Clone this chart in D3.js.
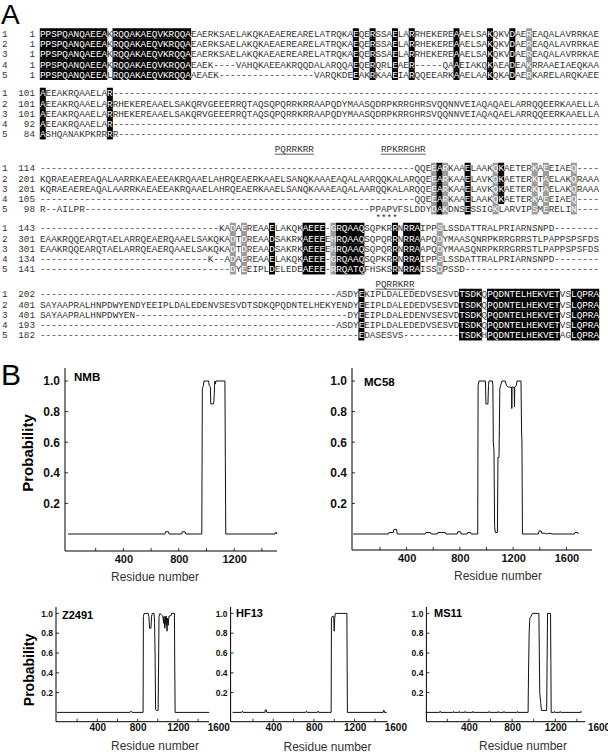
<!DOCTYPE html>
<html>
<head>
<meta charset="utf-8">
<script src="https://cdn.jsdelivr.net/npm/d3@7/dist/d3.min.js"></script>
<style>
  body { margin: 0; background: #fff; }
  svg { display: block; }
</style>
</head>
<body>
<div id="chart"></div>
<script>
// ---------- Panel A data: alignment blocks (100 columns each) ----------
const dash = n => "-".repeat(n);
const seqNames = ["1", "2", "3", "4", "5"];

const block1 = [
  "PPSPQANQAEEAKRQQAKAEQVKRQQAEAERKSAELAKQKAEAEREARELATRQKAEQERSSAELARRHEKEREAAELSAKQKVDAEREAQALAVRRKAE",
  "PPSPQANQAEEAKRQQAKAEQVKRQQAEAERKSAELAKQKAEAEREARELATRQKAEQERSSAELARRHEKEREAAELSAKQKVDAEREAQALAVRRKAE",
  "PPSPQANQAEEAKRQQAKAEQVKRQQAEAERKSAELAKQKAEAEREARELATRQKAEQERSSAELARRHEKEREAAELSAKQKVDAEREAQALAVRRKAE",
  "PPSPQANQAEEAKRQQAKAEQVKRQQAEAEK----VAHQKAEEAKRQQDALARQQAEQERQRLEAER-----QAAEIAKQKAEADEAKRRAAEIAEQKAA",
  "PPSPQANQAEEALRQQAKAEQVKRQQAAEAEK" + dash(17) + "VARQKDEEAKRKAAEIARQQEEARKAAELAAKQKADAERKARELARQKAEE"
];
const block2 = [
  "AEEAKRQAAELAR" + dash(87),
  "AEEAKRQAAELARRHEKEREAAELSAKQRVGEEERRQTAQSQPQRRKRRAAPQDYMAASQDRPKRRGHRSVQQNNVEIAQAQAELARRQQEERKAAELLA",
  "AEEAKRQAAELARRHEKEREAAELSAKQRVGEEERRQTAQSQPQRRKRRAAPQDYMAASQDRPKRRGHRSVQQNNVEIAQAQAELARRQQEERKAAELLA",
  "AEEAKRQAAELAR" + dash(87),
  "ASHQANAKPKRRRR" + dash(86)
];
const block3 = [
  dash(67) + "QQEEARKAAELAAKQKAETERKAEEIAEQ" + dash(4),
  "KQRAEAEREAQALAARRKAEAEEAKRQAAELAHRQEAERKAAELSANQKAAAEAQALAARQQKALARQQEEARKAAELAVKQKAETERKTAELAKQRAAA",
  "KQRAEAEREAQALAARRKAEAEEAKRQAAELAHRQEAERKAAELSANQKAAAEAQALAARQQKALARQQEEARKAAELAVKQKAETERKTAELAKQRAAA",
  dash(67) + "QQEEARKAAELAAKQKAETERKAEEIAEQ" + dash(4),
  "R--AILPR" + dash(51) + "PPAPVFSLDDYDAKDNSESSIGKLARVIPSMERELIN" + dash(4)
];
const block4 = [
  dash(32) + "KADAEREAAELAKQKAEEE-GRQAAQSQPKRRNRRAIPPSLSSDATTRALPRIARNSNPD" + dash(8),
  "EAAKRQQEARQTAELARRQEAERQAAELSAKQKADTDREAADSAKRKAEEEEHRQAAQSQPQRRNRRAAPQDYMAASQNRPKRRGRRSTLPAPPSPSFDS",
  "EAAKRQQEARQTAELARRQEAERQAAELSAKQKADTDREAADSAKRKAEEEEHRQAAQSQPQRRNRRAAPQDYMAASQNRPKRRGRRSTLPAPPSPSFDS",
  dash(30) + "K--ADAEREAAELAKQKAEEE-GRQAAQSQPKRRNRRAIPPSLSSDATTRALPRIARNSNPD" + dash(8),
  dash(34) + "DYEEIPLDELEDEAEEE-RRQATQFHSKSRNRRAISSDPSSD" + dash(24)
];
const block5 = [
  dash(53) + "ASDYEKIPLDALEDEDVSESVDTSDKQPQDNTELHEKVETVSLQPRA",
  "SAYAAPRALHNPDWYENDYEEIPLDALEDENVSESVDTSDKQPQDNTELHEKYENDYEEIPLDALEDEDVSESVDTSDKQPQDNTELHEKVETVSLQPRA",
  "SAYAAPRALHNPDWYEN" + dash(38) + "DYEEIPLDALEDENVSESVDTSDKQPQDNTELHEKVETVSLQPRA",
  dash(53) + "ASDYEEIPLDALEDEDVSESVDTSDKQPQDNTELHEKVETVSLQPRA",
  dash(57) + "EDASESVS" + dash(10) + "TSDKHPQDNTELHEKVETAGLQPRA"
];
const blocks = [block1, block2, block3, block4, block5];

// first residue number of each row
const blockStarts = [
  [1, 1, 1, 1, 1],
  [101, 101, 101, 92, 84],
  [114, 201, 201, 105, 98],
  [143, 301, 301, 134, 141],
  [202, 401, 401, 193, 182]
];

// shaded columns (black = identical, grey = similar), 1-based
const blackCols = ["1-12 14-27 57 60 64 67 75 81 85", "1 13", "72 77 83", "42 48-51 54-58 64 66-68", "58 76-79 81-93 96-100"];
const greyCols = ["88", "", "71 73 82 89 91 96", "35 37 53 72", ""];
const unshaded = [[], [], [[4, 83]], [], []]; // [row, col]

// motif labels under blocks and the asterisk run
const motifs = [
  {block: 1, col: 43, text: "PQRRKRR"},
  {block: 1, col: 62, text: "RPKRRGHR"},
  {block: 3, col: 61, text: "PQRRKRR"}
];
const starCols = [61, 62, 63, 64];

// ---------- Panel B data: probability profiles [residue, probability] ----------
const nmbProfile = [[0,0],[700,0],[705,0.015],[725,0.015],[730,0],[820,0],[825,0.015],[845,0.015],[850,0],
  [966,0],[970,0.95],[978,0.97],[982,1],[1015,1],[1020,0.97],[1028,0.96],[1031,0.85],[1050,0.85],[1054,0.87],
  [1058,0.97],[1061,1],[1064,0.98],[1068,1],[1133,1],[1136,0.5],[1139,0],[1495,0],[1498,0.01],[1505,0.01],[1507,0]];
const mc58Profile = [[0,0],[265,0],[268,0.01],[300,0.01],[305,0.03],[325,0.03],[330,0],[540,0],[545,0.01],[580,0.01],
  [585,0],[630,0],[635,0.01],[690,0.01],[695,0],[780,0],[785,0.015],[805,0.015],[810,0],[855,0],[860,0.01],[880,0.01],
  [885,0],[934,0],[937,0.97],[944,1],[992,1],[996,0.85],[1011,0.85],[1015,0.97],[1019,1],[1044,1],[1048,0.97],
  [1051,0.6],[1056,0.55],[1061,0.05],[1066,0.01],[1082,0.01],[1086,0.5],[1094,0.5],[1100,0.95],[1106,0.97],[1116,1],
  [1141,1],[1150,0.97],[1166,0.96],[1188,0.96],[1190,0.82],[1192,0.96],[1208,0.96],[1210,0.83],[1212,0.96],[1224,0.97],
  [1229,1],[1259,1],[1263,0.68],[1266,0.6],[1270,0],[1390,0],[1395,0.02],[1410,0.02],[1415,0.005],[1440,0.005],
  [1450,0],[1470,0.005],[1500,0],[1660,0],[1665,0.01],[1685,0.01],[1688,0]];
const z2491Profile = [[0,0],[725,0],[730,0.01],[740,0.01],[745,0],[854,0],[857,0.97],[865,1],[905,1],[912,0.97],
  [918,0.85],[932,0.85],[938,0.97],[946,1],[963,1],[968,0.9],[973,0.6],[978,0.03],[985,0.02],[1003,0.02],[1008,0.5],
  [1012,0.97],[1023,1],[1040,0.98],[1050,0.97],[1058,0.9],[1062,0.97],[1070,0.85],[1074,0.97],[1082,0.88],[1086,0.97],
  [1092,0.82],[1096,0.95],[1104,0.88],[1110,0.97],[1134,0.98],[1138,1],[1165,1],[1168,0.5],[1172,0],[1511,0]];
const hf13Profile = [[0,0],[90,0],[93,0.01],[100,0.01],[103,0],[318,0],[321,0.025],[332,0.025],[335,0],[720,0],
  [723,0.01],[730,0.01],[733,0],[834,0],[837,0.01],[845,0.01],[848,0],[969,0],[972,0.95],[980,0.97],[995,0.97],
  [999,0.82],[1004,0.95],[1010,1],[1124,1],[1126,0.5],[1129,0],[1480,0],[1483,0.02],[1490,0.02],[1493,0],[1516,0]];
const ms11Profile = [[0,0],[128,0],[131,0.01],[136,0.01],[139,0],[255,0],[258,0.01],[262,0],[308,0],[311,0.01],
  [316,0],[362,0],[365,0.01],[370,0],[434,0],[437,0.01],[442,0],[584,0],[587,0.01],[592,0],[668,0],[671,0.01],
  [676,0],[722,0],[725,0.01],[730,0],[847,0],[850,0.01],[855,0],[948,0],[952,0.4],[958,0.8],[964,0.95],[975,0.97],
  [990,1],[1048,1],[1052,0.6],[1056,0.2],[1064,0.1],[1072,0.02],[1120,0.02],[1124,0.5],[1128,1],[1156,1],
  [1159,0.5],[1162,0],[1189,0],[1192,0.01],[1197,0],[1242,0],[1245,0.01],[1250,0],[1435,0],[1438,0.01],[1442,0]];

const strainNames = ["NMB", "MC58", "Z2491", "HF13", "MS11"];
const profiles = [nmbProfile, mc58Profile, z2491Profile, hf13Profile, ms11Profile];
const xTickLabels = [[400, 800, 1200], [400, 800, 1200, 1600], [400, 800, 1200, 1600], [400, 800, 1200, 1600], [400, 800, 1200, 1600]];
const yTickLabels = [0.2, 0.4, 0.6, 0.8, 1.0];

// ---------- Layout ----------
const svg = d3.select("#chart")
  .append("svg")
    .attr("width", 608)
    .attr("height", 752);

const sans = "'Liberation Sans', Arial, Helvetica, sans-serif";
const mono = "'Courier New', 'Liberation Mono', monospace";

// Panel letters
svg.append("text").attr("x", 1).attr("y", 24).style("font-family", sans).style("font-size", "28px").text("A");
svg.append("text").attr("x", 1).attr("y", 385).style("font-family", sans).style("font-size", "30px").text("B");

// Column scale for the alignment
const colX = d3.scaleLinear().domain([0, 100]).range([40, 599]);
const cw = colX(1) - colX(0);
const blockY = [33.5, 93, 168, 228, 294];
const rowStep = 10.3;

function parseCols(s) {
  const out = new Set();
  s.split(" ").filter(t => t).forEach(t => {
    const [a, b] = t.split("-").map(Number);
    for (let c = a; c <= (b || a); c++) out.add(c);
  });
  return out;
}

const seqG = svg.append("g");
blocks.forEach((rows, b) => {
  const black = parseCols(blackCols[b]);
  const grey = parseCols(greyCols[b]);
  rows.forEach((seq, r) => {
    const y = blockY[b] + r * rowStep;
    const chars = seq.padEnd(100, "-").slice(0, 100).split("");
    const shadeOf = (ch, col) => {
      if (ch === "-") return null;
      if (unshaded[b].some(u => u[0] === r && u[1] === col)) return null;
      if (black.has(col)) return "#000";
      if (grey.has(col)) return "#9a9a9a";
      return null;
    };

    // Shade boxes first
    chars.forEach((ch, i) => {
      const fill = shadeOf(ch, i + 1);
      if (!fill) return;
      seqG.append("rect")
        .attr("x", colX(i) - 0.2)
        .attr("y", y - rowStep / 2 - 0.1)
        .attr("width", cw + 0.4)
        .attr("height", rowStep + 0.2)
        .attr("fill", fill);
    });

    // Residue letters
    chars.forEach((ch, i) => {
      seqG.append("text")
        .attr("x", colX(i + 0.5))
        .attr("y", y)
        .attr("dy", "0.35em")
        .attr("text-anchor", "middle")
        .style("font-family", mono)
        .style("font-size", "9.3px")
        .attr("fill", shadeOf(ch, i + 1) ? "#fff" : "#333")
        .text(ch);
    });

    // Row name and start number
    seqG.append("text").attr("x", 2).attr("y", y).attr("dy", "0.35em")
      .style("font-family", mono).style("font-size", "9.3px").attr("fill", "#333").text(seqNames[r]);
    seqG.append("text").attr("x", 35).attr("y", y).attr("dy", "0.35em").attr("text-anchor", "end")
      .style("font-family", mono).style("font-size", "9.3px").attr("fill", "#333").text(blockStarts[b][r]);
  });
});

// Motif labels, underlined
motifs.forEach(m => {
  const y = blockY[m.block] + 4 * rowStep + 15;
  const x0 = colX(m.col - 1);
  const x1 = colX(m.col - 1 + m.text.length);
  m.text.split("").forEach((ch, i) => {
    seqG.append("text")
      .attr("x", colX(m.col - 1 + i + 0.5))
      .attr("y", y)
      .attr("dy", "0.35em")
      .attr("text-anchor", "middle")
      .style("font-family", mono)
      .style("font-size", "9.3px")
      .attr("fill", "#333")
      .text(ch);
  });
  seqG.append("line").attr("x1", x0).attr("x2", x1).attr("y1", y + 5).attr("y2", y + 5)
    .attr("stroke", "#333").attr("stroke-width", 0.8);
});

// Asterisks under block 3
starCols.forEach(c => {
  seqG.append("text")
    .attr("x", colX(c - 0.5))
    .attr("y", blockY[2] + 4 * rowStep + 9)
    .attr("dy", "0.35em")
    .attr("text-anchor", "middle")
    .style("font-family", mono)
    .style("font-size", "9.3px")
    .attr("fill", "#333")
    .text("*");
});

// ---------- Panel B: probability plots ----------
const plotLayout = [
  {left: 65, right: 277, top: 368, oneY: 381, zeroY: 534, axisY: 551, x0: 68, kx: 0.1385,
   nameX: 74, nameY: 377, prob: [28, 453, 15], resX: 155, resY: 577, yFont: 12, xFont: 11, xPad: 4, nameFont: 11.5},
  {left: 352, right: 592, top: 368, oneY: 381, zeroY: 534, axisY: 550, x0: 353.3, kx: 0.1332,
   nameX: 364, nameY: 382, prob: null, resX: 498, resY: 576, yFont: 12, xFont: 11, xPad: 4, nameFont: 11.5},
  {left: 56, right: 209, top: 607, oneY: 613.4, zeroY: 712.4, axisY: 721.7, x0: 57, kx: 0.1008,
   nameX: 62, nameY: 615, prob: [29, 670, 14], resX: 155, resY: 746, yFont: 8.5, xFont: 10, xPad: 2, nameFont: 11},
  {left: 230.6, right: 387.6, top: 607, oneY: 613.4, zeroY: 712.4, axisY: 721.7, x0: 232.6, kx: 0.1017,
   nameX: 236, nameY: 613, prob: null, resX: 327.5, resY: 747, yFont: 8.5, xFont: 10, xPad: 2, nameFont: 11},
  {left: 426.4, right: 585.3, top: 607, oneY: 613.4, zeroY: 712.4, axisY: 721.7, x0: 425.7, kx: 0.108,
   nameX: 434, nameY: 613, prob: null, resX: 523, resY: 746, yFont: 8.5, xFont: 10, xPad: 2, nameFont: 11}
];

plotLayout.forEach((L, p) => {
  const g = svg.append("g");
  const x = d3.scaleLinear().domain([0, 1600]).range([L.x0, L.x0 + 1600 * L.kx]);
  const y = d3.scaleLinear().domain([0, 1]).range([L.zeroY, L.oneY]);

  // Axis lines
  g.append("line").attr("x1", L.left).attr("x2", L.left).attr("y1", L.top).attr("y2", L.axisY)
    .attr("stroke", "#000").attr("stroke-width", 1);
  g.append("line").attr("x1", L.left).attr("x2", L.right).attr("y1", L.axisY).attr("y2", L.axisY)
    .attr("stroke", "#000").attr("stroke-width", 1);

  // Minor/major x ticks every 200 residues, pointing up
  const xTicks = d3.range(200, 1800, 200).filter(v => x(v) < L.right - 2);
  g.selectAll(".xt").data(xTicks).join("line")
    .attr("x1", d => x(d)).attr("x2", d => x(d))
    .attr("y1", L.axisY).attr("y2", L.axisY - 3)
    .attr("stroke", "#000").attr("stroke-width", 0.8);

  // X tick labels
  g.append("g")
    .attr("transform", `translate(0,${L.axisY})`)
    .call(d3.axisBottom(x).tickValues(xTickLabels[p]).tickSize(0).tickPadding(L.xPad).tickFormat(d3.format("d")))
    .call(a => a.select(".domain").remove())
    .selectAll("text")
      .style("font-family", sans)
      .style("font-weight", "bold")
      .style("font-size", L.xFont + "px")
      .attr("fill", "#111");

  // Y ticks pointing right and labels
  g.selectAll(".yt").data(yTickLabels).join("line")
    .attr("x1", L.left).attr("x2", L.left + 3)
    .attr("y1", d => y(d)).attr("y2", d => y(d))
    .attr("stroke", "#000").attr("stroke-width", 0.8);
  g.append("g")
    .attr("transform", `translate(${L.left},0)`)
    .call(d3.axisLeft(y).tickValues(yTickLabels).tickSize(0).tickPadding(p < 2 ? 5 : 3).tickFormat(d3.format(".1f")))
    .call(a => a.select(".domain").remove())
    .selectAll("text")
      .style("font-family", sans)
      .style("font-weight", "bold")
      .style("font-size", L.yFont + "px")
      .attr("fill", "#111");

  // Profile line
  g.append("path")
    .datum(profiles[p])
    .attr("fill", "none")
    .attr("stroke", "#111")
    .attr("stroke-width", 1)
    .attr("d", d3.line().x(d => x(d[0])).y(d => y(d[1])));

  // Strain name
  g.append("text")
    .attr("x", L.nameX).attr("y", L.nameY).attr("dy", "0.35em")
    .style("font-family", sans).style("font-weight", "bold").style("font-size", L.nameFont + "px")
    .text(strainNames[p]);

  // Axis titles
  g.append("text")
    .attr("x", L.resX).attr("y", L.resY).attr("dy", "0.35em").attr("text-anchor", "middle")
    .style("font-family", sans).style("font-size", "12px").attr("fill", "#333")
    .text("Residue number");
  if (L.prob) {
    g.append("text")
      .attr("transform", `translate(${L.prob[0]},${L.prob[1]}) rotate(-90)`)
      .attr("dy", "0.35em").attr("text-anchor", "middle")
      .style("font-family", sans).style("font-weight", "bold").style("font-size", L.prob[2] + "px")
      .text("Probability");
  }
});
</script>
</body>
</html>
